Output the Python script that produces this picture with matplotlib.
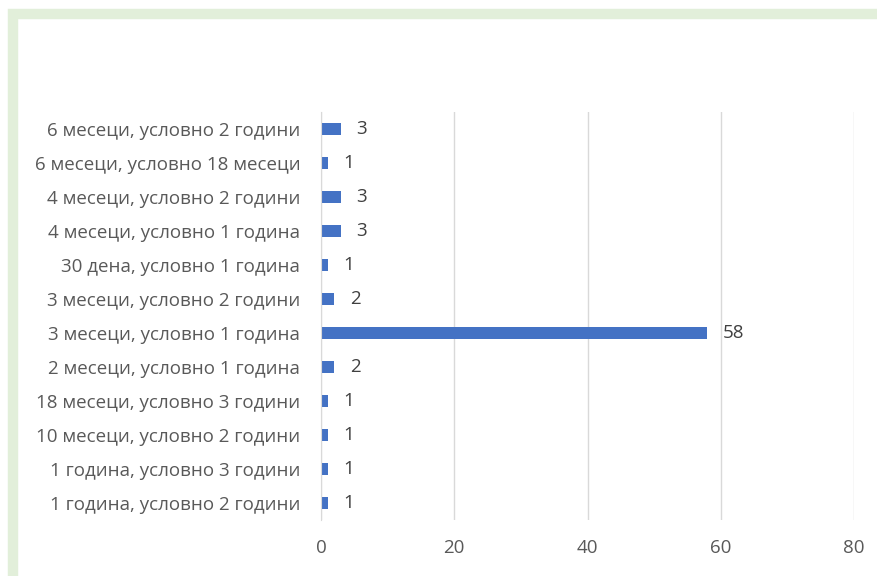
import matplotlib
matplotlib.use('Agg')
import matplotlib.pyplot as plt
from matplotlib.patches import Rectangle

plt.rcParams['font.family'] = ['Open Sans', 'DejaVu Sans']

# категории отдолу нагоре
categories = [
    '1 година, условно 2 години',
    '1 година, условно 3 години',
    '10 месеци, условно 2 години',
    '18 месеци, условно 3 години',
    '2 месеци, условно 1 година',
    '3 месеци, условно 1 година',
    '3 месеци, условно 2 години',
    '30 дена, условно 1 година',
    '4 месеци, условно 1 година',
    '4 месеци, условно 2 години',
    '6 месеци, условно 18 месеци',
    '6 месеци, условно 2 години',
]
counts = [1, 1, 1, 1, 2, 58, 2, 1, 3, 3, 1, 3]
xticks = [0, 20, 40, 60, 80]

W, H = 877, 576
fig = plt.figure(figsize=(W / 100, H / 100), dpi=100)
fig.patch.set_facecolor('white')

# светло зелена рамка
fig.patches.append(Rectangle((13 / W, -2 / H), 1.0, 1 - 14 / H + 2 / H,
                             transform=fig.transFigure, fill=False,
                             edgecolor='#e2efda', linewidth=7.5))

ax = fig.add_axes([321 / W, 56 / H, 533 / W, 408 / H])
y = range(len(categories))
ax.barh(y, counts, height=0.36, color='#4472c4', zorder=3)
for yi, v in zip(y, counts):
    ax.text(v + 2.3, yi, str(v), va='center', ha='left', fontsize=13.5, color='#404040')

ax.set_xlim(0, 80)
ax.set_ylim(-0.5, len(categories) - 0.5)
ax.set_xticks(xticks)
ax.set_yticks(list(y))
ax.set_yticklabels(categories)
ax.tick_params(axis='both', length=0, labelsize=13.5, colors='#595959')
ax.tick_params(axis='y', pad=15)
ax.tick_params(axis='x', pad=14)
ax.grid(axis='x', color='#d9d9d9', linewidth=1, zorder=0)
for s in ['top', 'right', 'bottom']:
    ax.spines[s].set_visible(False)
ax.spines['left'].set_color('#d9d9d9')
ax.spines['left'].set_zorder(4)

plt.savefig('out.png', dpi=100)
